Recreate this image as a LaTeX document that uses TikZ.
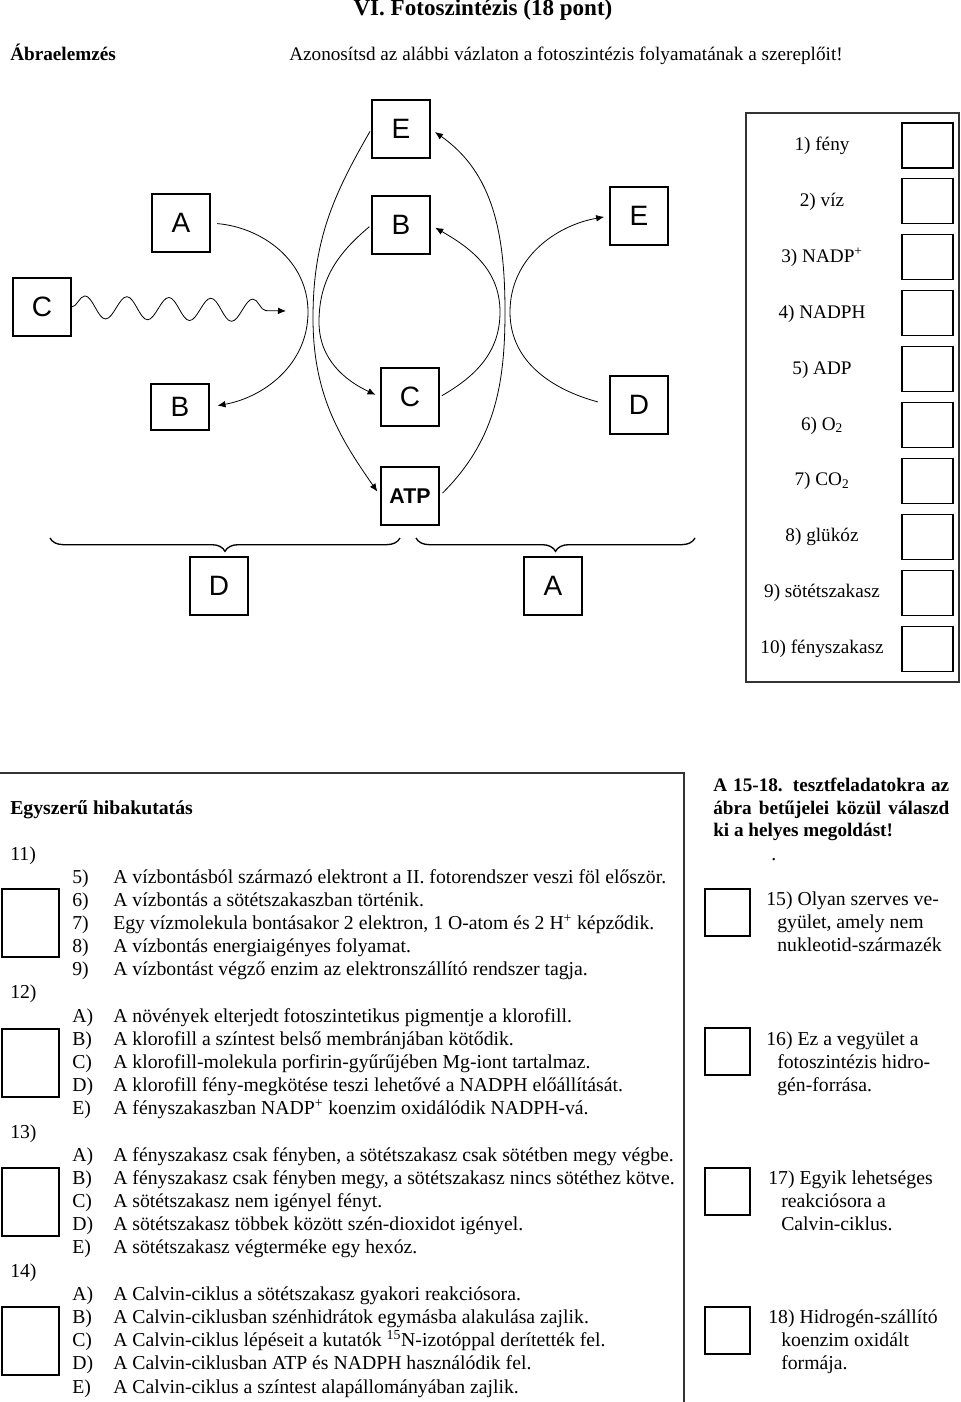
\documentclass[tikz,border=0pt]{standalone}
\usepackage{fontspec}
\setmainfont{Liberation Serif}
\newfontfamily\betufont{Liberation Sans}
\usetikzlibrary{arrows.meta,positioning,decorations.pathmorphing,decorations.pathreplacing}
\newcommand{\jel}[1]{\makebox[30.75pt][l]{#1}}

\begin{document}
\begin{tikzpicture}[
    x=0.75pt, y=-0.75pt,
    txt/.style={anchor=base west, inner sep=0pt, font=\fontsize{14.4}{17}\selectfont},
    vastag/.style={anchor=base west, inner sep=0pt, font=\fontsize{14.4}{17}\selectfont\bfseries},
    lent/.style={anchor=base west, inner sep=0pt, font=\fontsize{14.8}{17}\selectfont},
    cim/.style={anchor=base, inner sep=0pt, font=\fontsize{17.3}{20}\selectfont\bfseries},
    elem/.style={anchor=base, inner sep=0pt, font=\fontsize{14.4}{17}\selectfont},
    betu/.style={draw, line width=0.9pt, minimum width=43.5pt, minimum height=43.5pt, inner sep=0pt, font=\betufont\fontsize{21}{21}\selectfont},
    valasz/.style={draw, line width=0.8pt, minimum width=38.25pt, minimum height=33.75pt, inner sep=0pt},
    kocka/.style={draw, line width=0.8pt, minimum width=42.75pt, minimum height=51pt, inner sep=0pt},
    kiskocka/.style={draw, line width=0.8pt, minimum width=33.75pt, minimum height=35.25pt, inner sep=0pt},
    keret/.style={line width=1pt, draw=black!80},
    nyil/.style={line width=0.6pt, -{Latex[length=6pt,width=5pt]}, shorten >=4pt},
    hullam/.style={line width=0.6pt, -{Latex[length=6pt,width=5pt]}, decorate,
        decoration={snake, segment length=31.5pt, amplitude=8.5pt, post length=4pt}},
    kapocs/.style={line width=1pt, decorate, decoration={brace, mirror, amplitude=10pt}}
]
\fill[white] (0,0) rectangle (960,1402);
\useasboundingbox (0,0) rectangle (960,1402);

% Cim
\node[cim] (cim) at (483,16) {VI. Fotoszintézis (18 pont)};
\node[vastag] (abra) at (10,61) {Ábraelemzés};
\node[txt] (feladat) at (289,61) {Azonosítsd az alábbi vázlaton a fotoszintézis folyamatának a szereplőit!};

% Betuk a vazlaton
\node[betu] (E1) at (401,129) {E};
\node[betu] (A1) at (181,223) {A};
\node[betu] (B1) at (401,225) {B};
\node[betu] (E2) at (639,216) {E};
\node[betu] (C1) at (42,307) {C};
\node[betu, minimum height=34.5pt] (B2) at (180,407) {B};
\node[betu] (C2) at (410,397) {C};
\node[betu] (D1) at (639,405) {D};
\node[betu, font=\betufont\bfseries\fontsize{16}{16}\selectfont] (ATP) at (410,496) {ATP};
\node[betu] (D2) at (219,586) {D};
\node[betu] (A2) at (553,586) {A};

% Fordulopontok
\coordinate (kA) at (308,312);
\coordinate (kE) at (313,318);
\coordinate (kB) at (319,322);
\coordinate (kC) at (500,312);
\coordinate (kAtp) at (505,312);
\coordinate (kD) at (510,312);
\coordinate (hv) at (286,311);

% Nyilak
\draw[hullam] (C1.east) -- (hv);
\draw[nyil, shorten <=5pt, shorten >=6pt] (A1.east) to[out=-5,in=90] (kA) to[out=-90,in=10] (B2.east);
\draw[nyil, shorten <=2pt] (E1.west) to[out=240,in=90] (kE) to[out=-90,in=125] (ATP.west);
\draw[nyil, shorten <=2pt] (B1.west) to[out=220,in=90] (kB) to[out=-90,in=155] (C2.west);
\draw[nyil, shorten <=3pt] (ATP.east) to[out=45,in=-90] (kAtp) to[out=90,in=-35] (E1.east);
\draw[nyil, shorten <=2pt] (C2.east) to[out=30,in=-90] (kC) to[out=90,in=-30] (B1.east);
\draw[nyil, shorten <=9pt] (D1.west) to[out=165,in=-90] (kD) to[out=90,in=190] (E2.west);

% Kapcsos zarojelek
\coordinate (z1) at (50,538);
\coordinate (z2) at (400,538);
\coordinate (z3) at (416,538);
\coordinate (z4) at (695,538);
\draw[kapocs] (z1) -- (z2);
\draw[kapocs] (z3) -- (z4);

% Valaszlista
\draw[keret] (746,113) rectangle (959,682);
\node[elem] (f1) at (822,150.5) {1) fény};
\node[elem] (f2) at (822,206.4) {2) víz};
\node[elem] (f3) at (822,262.3) {3) NADP\textsuperscript{+}};
\node[elem] (f4) at (822,318.2) {4) NADPH};
\node[elem] (f5) at (822,374.1) {5) ADP};
\node[elem] (f6) at (822,430) {6) O\textsubscript{2}};
\node[elem] (f7) at (822,485.9) {7) CO\textsubscript{2}};
\node[elem] (f8) at (822,541.8) {8) glükóz};
\node[elem] (f9) at (822,597.7) {9) sötétszakasz};
\node[elem] (f10) at (822,653.6) {10) fényszakasz};
\node[valasz] (v1) at (927.5,145.5) {};
\node[valasz] (v2) at (927.5,201.4) {};
\node[valasz] (v3) at (927.5,257.3) {};
\node[valasz] (v4) at (927.5,313.2) {};
\node[valasz] (v5) at (927.5,369.1) {};
\node[valasz] (v6) at (927.5,425) {};
\node[valasz] (v7) at (927.5,480.9) {};
\node[valasz] (v8) at (927.5,536.8) {};
\node[valasz] (v9) at (927.5,592.7) {};
\node[valasz] (v10) at (927.5,648.6) {};

% Egyszeru hibakutatas
\draw[keret] (0,773) -- (684,773) -- (684,1402);
\node[vastag, font=\fontsize{14.8}{17}\selectfont\bfseries] (hiba) at (10,814) {Egyszerű hibakutatás};
\node[lent] (k11) at (10,860) {11)};
\node[lent] (k12) at (10,998.9) {12)};
\node[lent] (k13) at (10,1138) {13)};
\node[lent] (k14) at (10,1277.1) {14)};
\node[kocka] (b11) at (30.5,923) {};
\node[kocka] (b12) at (30.5,1063) {};
\node[kocka] (b13) at (30.5,1202) {};
\node[kocka] (b14) at (30.5,1341) {};

\node[lent] (s11a) at (72,883) {\jel{5)}A vízbontásból származó elektront a II. fotorendszer veszi föl először.};
\node[lent] (s11b) at (72,906.2) {\jel{6)}A vízbontás a sötétszakaszban történik.};
\node[lent] (s11c) at (72,929.4) {\jel{7)}Egy vízmolekula bontásakor 2 elektron, 1 O-atom és 2 H\textsuperscript{+} képződik.};
\node[lent] (s11d) at (72,952.5) {\jel{8)}A vízbontás energiaigényes folyamat.};
\node[lent] (s11e) at (72,975.7) {\jel{9)}A vízbontást végző enzim az elektronszállító rendszer tagja.};

\node[lent] (s12a) at (72,1022.1) {\jel{A)}A növények elterjedt fotoszintetikus pigmentje a klorofill.};
\node[lent] (s12b) at (72,1045.3) {\jel{B)}A klorofill a színtest belső membránjában kötődik.};
\node[lent] (s12c) at (72,1068.4) {\jel{C)}A klorofill-molekula porfirin-gyűrűjében Mg-iont tartalmaz.};
\node[lent] (s12d) at (72,1091.6) {\jel{D)}A klorofill fény-megkötése teszi lehetővé a NADPH előállítását.};
\node[lent] (s12e) at (72,1114.8) {\jel{E)}A fényszakaszban NADP\textsuperscript{+} koenzim oxidálódik NADPH-vá.};

\node[lent] (s13a) at (72,1161.2) {\jel{A)}A fényszakasz csak fényben, a sötétszakasz csak sötétben megy végbe.};
\node[lent] (s13b) at (72,1184.3) {\jel{B)}A fényszakasz csak fényben megy, a sötétszakasz nincs sötéthez kötve.};
\node[lent] (s13c) at (72,1207.5) {\jel{C)}A sötétszakasz nem igényel fényt.};
\node[lent] (s13d) at (72,1230.7) {\jel{D)}A sötétszakasz többek között szén-dioxidot igényel.};
\node[lent] (s13e) at (72,1253.9) {\jel{E)}A sötétszakasz végterméke egy hexóz.};

\node[lent] (s14a) at (72,1300.2) {\jel{A)}A Calvin-ciklus a sötétszakasz gyakori reakciósora.};
\node[lent] (s14b) at (72,1323.4) {\jel{B)}A Calvin-ciklusban szénhidrátok egymásba alakulása zajlik.};
\node[lent] (s14c) at (72,1346.6) {\jel{C)}A Calvin-ciklus lépéseit a kutatók \textsuperscript{15}N-izotóppal derítették fel.};
\node[lent] (s14d) at (72,1369.8) {\jel{D)}A Calvin-ciklusban ATP és NADPH használódik fel.};
\node[lent] (s14e) at (72,1393) {\jel{E)}A Calvin-ciklus a színtest alapállományában zajlik.};

% Tesztfeladatok
\node[vastag] (t1) at (713,791) {\makebox[177pt][s]{A 15-18. tesztfeladatokra az}};
\node[vastag] (t2) at (713,814) {\makebox[177pt][s]{ábra betűjelei közül válaszd}};
\node[vastag] (t3) at (713,836) {ki a helyes megoldást!};
\node[lent] (pont) at (771,860) {.};

\node[kiskocka] (q15) at (727.5,912.5) {};
\node[kiskocka] (q16) at (727.5,1051.5) {};
\node[kiskocka] (q17) at (727.5,1191.5) {};
\node[kiskocka] (q18) at (727.5,1330.5) {};

\node[lent] (t15a) at (766,905) {15) Olyan szerves ve-};
\node[lent] (t15b) at (777,928) {gyület, amely nem};
\node[lent] (t15c) at (777,951) {nukleotid-származék};
\node[lent] (t16a) at (766,1045) {16) Ez a vegyület a};
\node[lent] (t16b) at (777,1068) {fotoszintézis hidro-};
\node[lent] (t16c) at (777,1091) {gén-forrása.};
\node[lent] (t17a) at (768,1184) {17) Egyik lehetséges};
\node[lent] (t17b) at (781,1207) {reakciósora a};
\node[lent] (t17c) at (781,1230) {Calvin-ciklus.};
\node[lent] (t18a) at (768,1323) {18) Hidrogén-szállító};
\node[lent] (t18b) at (781,1346) {koenzim oxidált};
\node[lent] (t18c) at (781,1369) {formája.};

\end{tikzpicture}
\end{document}
